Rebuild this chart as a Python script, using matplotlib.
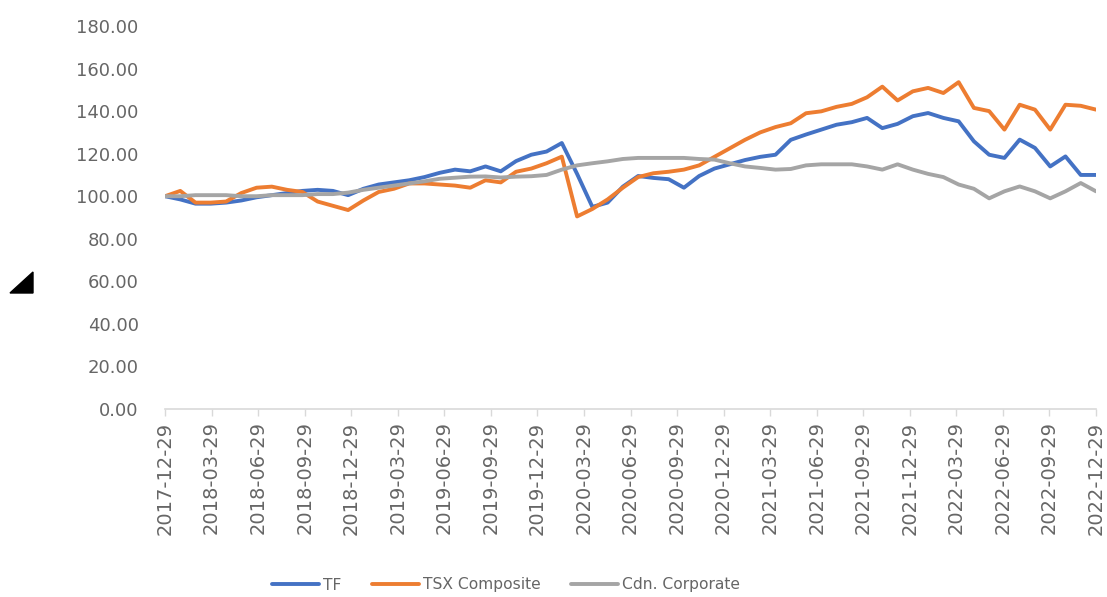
import matplotlib
matplotlib.use("Agg")
import matplotlib.pyplot as plt
from matplotlib.patches import Polygon

# index values (62 observations, evenly spread from 2017-12-29 to 2022-12-29)
tf = [100, 98.5, 96.5, 96.5, 97, 98, 99.5, 100.5, 101.5, 102.5,
      103, 102.5, 100.5, 103.5, 105.5, 106.5, 107.5, 109, 111, 112.5,
      111.7, 114, 111.7, 116.5, 119.5, 121, 125, 110.5, 95, 97,
      104.5, 109.5, 108.6, 108, 104, 109.5, 113, 115, 117, 118.5,
      119.5, 126.5, 129, 131.3, 133.6, 134.8, 136.8, 132, 134, 137.6,
      139.1, 136.8, 135.2, 125.8, 119.5, 118, 126.6, 122.7, 114, 118.7,
      110, 110]
tsx = [100, 102.5, 97, 97, 97.5, 101.5, 104, 104.5, 103, 102,
       97.5, 95.5, 93.5, 98, 102, 103.5, 106, 106, 105.5, 105,
       104, 107.5, 106.5, 111.5, 113, 115.5, 118.6, 90.5, 94, 98.5,
       104, 109, 110.8, 111.5, 112.5, 114.5, 118.5, 122.5, 126.5, 130,
       132.5, 134.3, 139, 139.9, 142, 143.4, 146.5, 151.5, 145, 149.3,
       150.9, 148.5, 153.6, 141.5, 140, 131.3, 143, 140.7, 131.3, 143,
       142.5, 140.7]
corp = [100, 100, 100.5, 100.5, 100.5, 100, 100, 100.5, 100.5, 100.5,
        101, 101, 101.7, 103, 104, 105, 106, 107, 108.2, 108.7,
        109.2, 109.3, 108.8, 109.2, 109.4, 110, 112.5, 114.5, 115.5, 116.4,
        117.5, 118, 118, 118, 118, 117.5, 117.2, 115.5, 114, 113.3,
        112.5, 112.8, 114.5, 115, 115, 115, 114, 112.5, 115, 112.5,
        110.5, 109, 105.5, 103.5, 99, 102.3, 104.6, 102.3, 99, 102.3,
        106.2, 102.3]

tick_labels = ["2017-12-29", "2018-03-29", "2018-06-29", "2018-09-29", "2018-12-29",
               "2019-03-29", "2019-06-29", "2019-09-29", "2019-12-29", "2020-03-29",
               "2020-06-29", "2020-09-29", "2020-12-29", "2021-03-29", "2021-06-29",
               "2021-09-29", "2021-12-29", "2022-03-29", "2022-06-29", "2022-09-29",
               "2022-12-29"]
series_names = ["TF", "TSX Composite", "Cdn. Corporate"]

W, H = 1107, 597
fig = plt.figure(figsize=(W / 100, H / 100), dpi=100)
ax = fig.add_axes([165 / W, 1 - 409 / H, (1096 - 165) / W, (409 - 26) / H])

# x in months since the first date; ticks every 3 months
span = 3 * (len(tick_labels) - 1)
n = len(tf)
x = [span * k / (n - 1) for k in range(n)]

ax.plot(x, tf, color="#4472C4", lw=2.8, label=series_names[0], solid_capstyle="round")
ax.plot(x, tsx, color="#ED7D31", lw=2.8, label=series_names[1], solid_capstyle="round")
ax.plot(x, corp, color="#A5A5A5", lw=2.8, label=series_names[2], solid_capstyle="round")

ax.set_xlim(0, span)
ax.set_ylim(0, 180)
ax.set_yticks(range(0, 181, 20))
ax.set_yticklabels([f"{v:.2f}" for v in range(0, 181, 20)])
ax.set_xticks(range(0, span + 1, 3))
ax.set_xticklabels(tick_labels, rotation=90)

for s in ["left", "right", "top"]:
    ax.spines[s].set_visible(False)
ax.spines["bottom"].set_color("#d9d9d9")
ax.spines["bottom"].set_linewidth(1.2)
ax.tick_params(axis="y", length=0, pad=19, labelsize=13, labelcolor="#666666")
ax.tick_params(axis="x", length=5, width=1, color="#d9d9d9", pad=4,
               labelsize=14, labelcolor="#666666")

fig.legend(loc="center", bbox_to_anchor=(506 / W, 1 - 585 / H), ncol=3,
           frameon=False, fontsize=11.2, handlelength=3.0, handletextpad=0.25,
           columnspacing=2.0, labelcolor="#666666")

# small black marker at the left edge
fig.patches.append(Polygon([(10 / W, 1 - 293 / H), (33 / W, 1 - 272 / H), (33 / W, 1 - 293 / H)],
                           closed=True, transform=fig.transFigure, color="black"))

fig.savefig("out.png", dpi=100)
